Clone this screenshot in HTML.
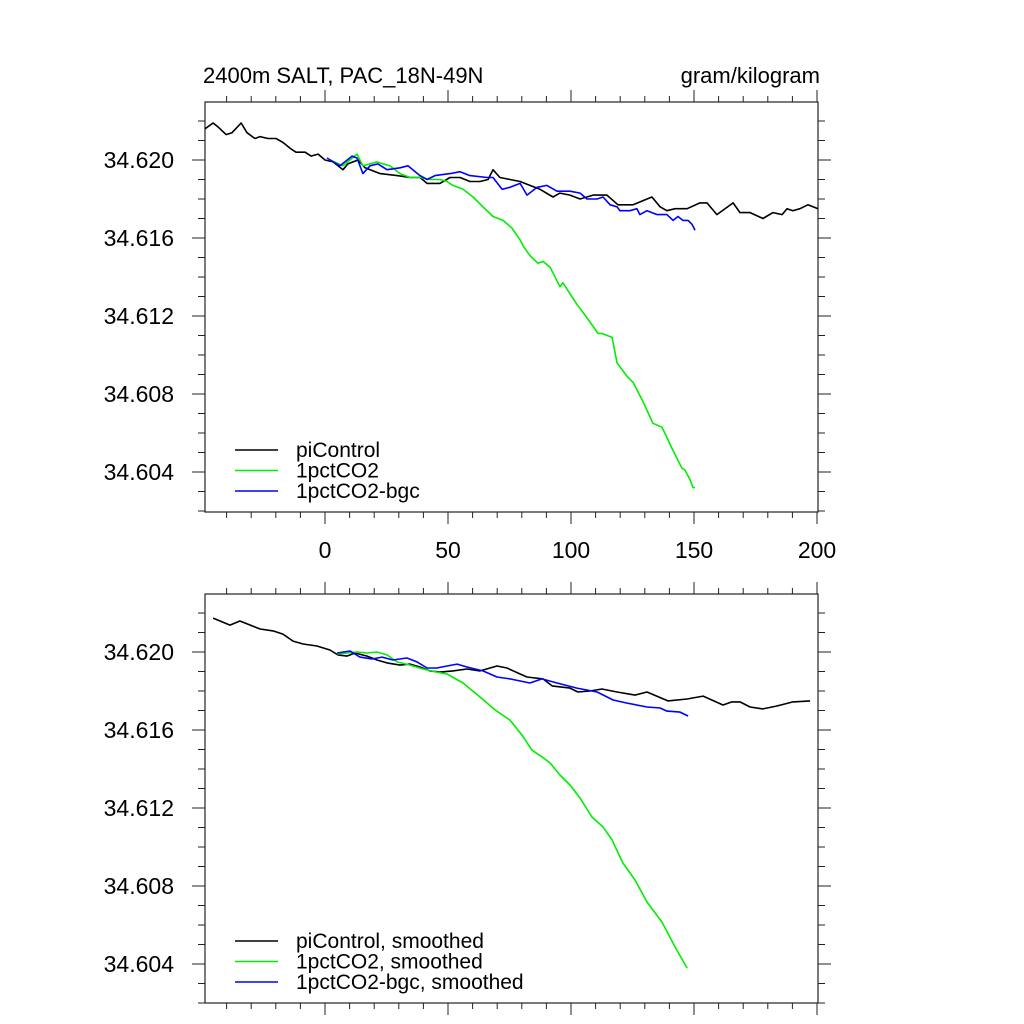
<!DOCTYPE html>
<html><head><meta charset="utf-8">
<style>
html,body{margin:0;padding:0;background:#fff;}
svg{display:block;font-family:"Liberation Sans",Arial,sans-serif;}
</style></head>
<body>
<svg id="chart" width="1024" height="1024" viewBox="0 0 1024 1024" xmlns="http://www.w3.org/2000/svg">
<text x="203" y="83" font-size="22">2400m SALT, PAC_18N-49N</text>
<text x="820" y="83" font-size="22" text-anchor="end">gram/kilogram</text>
</svg>
<script>
// ---------- data ----------
const xTicks = [0, 50, 100, 150, 200];
const yTicks = [34.604, 34.608, 34.612, 34.616, 34.620];
const yTickLabels = ["34.604", "34.608", "34.612", "34.616", "34.620"];

const piYears = [-48.8,-45.5,-43.5,-40.2,-37.8,-34.1,-31.7,-28.5,-26.4,-23.2,-19.9,-17.1,-14.2,-11.8,-8.1,-5.7,-2.8,0,3.3,7.3,9.3,13.4,16.3,22.4,29.3,34.6,38.6,41.5,46.7,50.8,54.9,58.9,63,66.3,68.3,71.1,75.2,79.3,83.3,87.4,92.7,95.5,99.6,103.7,109,114.6,119.1,125.2,130.9,132.9,136.2,139,142.3,147.2,152.4,155.3,159.3,165.9,168.7,172.8,178,182.1,185.8,187.8,190.2,193.1,196.3,200.4];
const piValues = [34.6216,34.6219,34.6217,34.6213,34.6214,34.6219,34.6214,34.6211,34.6212,34.6211,34.6211,34.6209,34.6206,34.6204,34.6204,34.6202,34.6203,34.6200,34.6199,34.6195,34.6198,34.6200,34.6196,34.6193,34.6192,34.6191,34.6191,34.6188,34.6188,34.6191,34.6191,34.6189,34.6189,34.6190,34.6195,34.6191,34.6190,34.6189,34.6187,34.6185,34.6181,34.6183,34.6182,34.6180,34.6182,34.6182,34.6177,34.6177,34.6180,34.6181,34.6176,34.6174,34.6175,34.6175,34.6178,34.6178,34.6172,34.6178,34.6173,34.6173,34.6170,34.6173,34.6172,34.6175,34.6174,34.6175,34.6177,34.6175];

const co2Years = [2,7.3,13,15.4,18.3,21.1,23.6,26.4,30.5,34.6,38.6,42.7,46.7,49.6,52,56.1,60.2,64.2,68.3,72.4,76,79.3,80.5,83.3,86.6,88.6,91.5,95.5,96.7,102.4,106.5,111,112.6,116.7,118.7,122.8,125.2,129.3,133.3,137,141.1,143.5,145.1,146.3,148.4,149.6,150.4];
const co2Values = [34.6200,34.6197,34.6203,34.6197,34.6198,34.6199,34.6198,34.6197,34.6193,34.6191,34.6191,34.6190,34.6190,34.6189,34.6187,34.6185,34.6181,34.6176,34.6171,34.6169,34.6165,34.6159,34.6156,34.6151,34.6147,34.6148,34.6145,34.6135,34.6137,34.6126,34.6119,34.6111,34.6111,34.6109,34.6096,34.6089,34.6086,34.6076,34.6065,34.6063,34.6052,34.6046,34.6042,34.6041,34.6036,34.6032,34.6032];

const bgcYears = [0.8,6.1,11,13,15.4,18.3,21.5,25.2,30.5,33.7,38.6,41.5,44.7,50.8,54.9,58.9,65.9,68.3,72,75.2,79.3,82.1,86.2,90.2,94.3,99.6,103.7,106.5,110.6,113,115.9,118.7,119.9,124,126.8,128,130.9,135,139,141.5,143.5,145.5,147.6,149.2,150.4];
const bgcValues = [34.6201,34.6197,34.6202,34.6201,34.6193,34.6197,34.6198,34.6195,34.6196,34.6197,34.6192,34.6190,34.6192,34.6193,34.6194,34.6192,34.6191,34.6191,34.6185,34.6186,34.6188,34.6182,34.6186,34.6187,34.6184,34.6184,34.6183,34.6180,34.6180,34.6181,34.6177,34.6176,34.6174,34.6174,34.6175,34.6172,34.6174,34.6172,34.6172,34.6169,34.6171,34.6169,34.6169,34.6167,34.6164];

const piSmYears = [-45.5,-38.6,-34.6,-26.4,-21.1,-17.1,-13,-8.9,-3.3,2,5.3,8.9,12.2,17.1,21.1,25.2,30.5,34.6,38.6,42.7,46.7,52,57.7,63,69.9,74,79.3,82.1,88.6,92.3,99.6,102.8,107.7,112.6,118.7,126,130.9,139.4,147.2,153.7,161.8,165.4,168.7,172.8,178,183.7,190.2,197.2];
const piSmValues = [34.62174,34.62138,34.62159,34.62118,34.62108,34.62092,34.62056,34.62041,34.62031,34.62010,34.61985,34.61979,34.61995,34.61979,34.61959,34.61944,34.61933,34.61938,34.61923,34.61903,34.61897,34.61903,34.61913,34.61903,34.61928,34.61918,34.61887,34.61872,34.61862,34.61826,34.61815,34.61795,34.61800,34.61810,34.61795,34.61779,34.61795,34.61749,34.61759,34.61774,34.61728,34.61744,34.61744,34.61718,34.61708,34.61723,34.61744,34.61749];

const co2SmYears = [4.9,8.9,13,17.1,21.1,25.2,29.3,34.6,39.8,45.5,49.6,56.1,63,69.1,75.2,80.1,84.1,88.2,91.5,95.5,99.6,103.7,108.5,113,116.7,121.1,126,130.9,137,142.3,147.2];
const co2SmValues = [34.6199,34.61995,34.6200,34.61995,34.6200,34.61985,34.61949,34.61933,34.61913,34.61897,34.61887,34.61841,34.61769,34.61703,34.61651,34.61574,34.61497,34.61462,34.61431,34.61369,34.61318,34.61251,34.61154,34.61103,34.61036,34.60918,34.60831,34.60718,34.60615,34.60487,34.60379];

const bgcSmYears = [4.9,10.2,14.2,19.1,23.2,27.6,33.3,37.4,41.5,45.5,49.6,53.7,57.7,64.2,69.9,75.2,83.3,88.2,94.3,102.4,110.6,117.1,122.8,130.9,136.2,139,144.3,147.6];
const bgcSmValues = [34.61995,34.62005,34.61974,34.61964,34.61974,34.61959,34.61969,34.61949,34.61918,34.61918,34.61928,34.61938,34.61923,34.61903,34.61872,34.61862,34.61841,34.61862,34.61841,34.61815,34.61795,34.61754,34.61738,34.61718,34.61713,34.61697,34.61692,34.61672];

const topLegend = ["piControl", "1pctCO2", "1pctCO2-bgc"];
const botLegend = ["piControl, smoothed", "1pctCO2, smoothed", "1pctCO2-bgc, smoothed"];
const colors = ["#000000", "#00ee00", "#0000ff"];

// ---------- drawing ----------
const NS = "http://www.w3.org/2000/svg";
const svg = document.getElementById("chart");
const X0 = 205, X1 = 818;
function xScale(v){ return 325 + (v - 0) * 2.46; }
function mk(tag, attrs, parent){
  const e = document.createElementNS(NS, tag);
  for (const k in attrs) e.setAttribute(k, attrs[k]);
  (parent || svg).appendChild(e);
  return e;
}

function drawPanel(top, bottom, yOfs, showXLabels, series, legendNames, legendY, prefix){
  function yScale(v){ return 160 + yOfs - (v - 34.620) * 19500; }
  const g = mk("g", {});
  
  
  const fr = mk("rect", {x:X0, y:top, width:X1-X0, height:bottom-top, fill:"none", stroke:"#222", "stroke-width":1.2}, g);
  
  
  for (let t = -40; t <= 200; t += 10) {
    const x = xScale(t);
    const major = (t % 50 === 0 && t >= 0);
    const len = major ? 12 : 6;
    const tb = mk("line", {x1:x, x2:x, y1:bottom, y2:bottom+len, stroke:"#222", "stroke-width":1}, g);
    
    
    const tt = mk("line", {x1:x, x2:x, y1:top, y2:top-len, stroke:"#222", "stroke-width":1}, g);
    
    
  }
  if (showXLabels) {
    xTicks.forEach(t => {
      const lb = mk("text", {x:xScale(t), y:bottom+46, "font-size":23, "text-anchor":"middle", fill:"#000"}, g);
      lb.textContent = String(t);
      
      
    });
  }
  for (let i = 0; i <= 22; i++) {
    const v = 34.602 + i * 0.001;
    const y = yScale(v);
    if (y < top - 0.5 || y > bottom + 0.5) continue;
    const major = (i % 4 === 2);
    const len = major ? 13 : 7;
    const tl = mk("line", {x1:X0, x2:X0-len, y1:y, y2:y, stroke:"#222", "stroke-width":1}, g);
    
    
    const tr = mk("line", {x1:X1, x2:X1+len, y1:y, y2:y, stroke:"#222", "stroke-width":1}, g);
    
    
  }
  yTicks.forEach((v, i) => {
    const lb = mk("text", {x:174, y:yScale(v)+8, "font-size":23, "text-anchor":"end", fill:"#000"}, g);
    lb.textContent = yTickLabels[i];
    
    
  });
  series.forEach((s, si) => {
    const pts = s[0].map((yr, i) => xScale(yr).toFixed(1) + "," + yScale(s[1][i]).toFixed(1)).join(" ");
    const pl = mk("polyline", {points:pts, fill:"none", stroke:colors[si], "stroke-width":1.6, "stroke-linejoin":"round"}, g);
    
    
  });
  legendNames.forEach((name, i) => {
    const y = legendY + i * 20.5;
    const ln = mk("line", {x1:235, x2:278, y1:y, y2:y, stroke:colors[i], "stroke-width":1.6}, g);
    
    
    const tx = mk("text", {x:296, y:y+7, "font-size":21, fill:"#000"}, g);
    tx.textContent = name;
    
    
  });
}

drawPanel(102, 512, 0, true,
  [[piYears, piValues], [co2Years, co2Values], [bgcYears, bgcValues]],
  topLegend, 450, "top");
drawPanel(594, 1003, 492, false,
  [[piSmYears, piSmValues], [co2SmYears, co2SmValues], [bgcSmYears, bgcSmValues]],
  botLegend, 941, "bottom");
</script>
</body></html>
